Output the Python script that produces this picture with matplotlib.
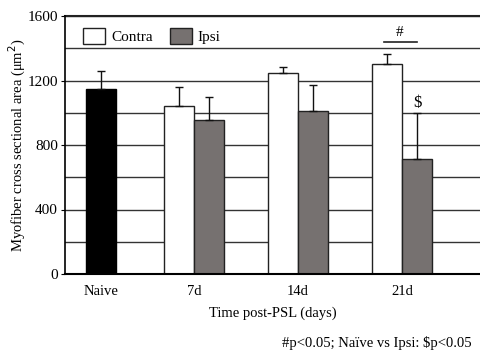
import numpy as np
import matplotlib.pyplot as plt

plt.rcParams['font.family'] = ['Liberation Serif', 'DejaVu Serif']

groups = ["Naive", "7d", "14d", "21d"]
naive_mean = 1147
naive_err = 112
contra_mean = [1042, 1248, 1304]
contra_err = [118, 36, 62]
ipsi_mean = [958, 1013, 715]
ipsi_err = [140, 159, 283]

pos = np.array([0, 0.894, 1.894, 2.894])
w = 0.29

fig = plt.figure(figsize=(4.81, 3.56), dpi=100)
ax = fig.add_axes([65/481, 1 - 274/356, 416/481, 258/356])

ax.set_axisbelow(True)
ekw = dict(lw=1, capsize=3, capthick=1, ecolor='#111111')

ax.bar(pos[0], naive_mean, w, color='black', edgecolor='black', lw=1, zorder=2)
ax.errorbar(pos[0], naive_mean, yerr=[[0], [naive_err]], fmt='none', zorder=3, **ekw)

ax.bar(pos[1:] - w/2, contra_mean, w, color='white', edgecolor='#222222', lw=1,
       zorder=2, label='Contra')
ax.errorbar(pos[1:] - w/2, contra_mean, yerr=[[0]*3, contra_err], fmt='none', zorder=3, **ekw)
ax.bar(pos[1:] + w/2, ipsi_mean, w, color='#767170', edgecolor='#222222', lw=1,
       zorder=2, label='Ipsi')
ax.errorbar(pos[1:] + w/2, ipsi_mean, yerr=[[0]*3, ipsi_err], fmt='none', zorder=3, **ekw)

ax.set_ylim(0, 1600)
ax.set_yticks([0, 400, 800, 1200, 1600])
ax.set_yticks(np.arange(0, 1601, 200), minor=True)
ax.yaxis.grid(True, which='both', color='#333333', lw=1)
ax.axhline(1600, color='#222222', lw=1.5, clip_on=False, zorder=1)
ax.tick_params(axis='y', which='minor', length=0)
ax.tick_params(axis='y', which='major', length=3, labelsize=11, pad=2)
ax.set_xlim(-0.346, 3.654)
ax.set_xticks(pos)
ax.set_xticklabels(groups, fontsize=10.5)
ax.tick_params(axis='x', length=0, pad=8)

for s in ['top', 'right']:
    ax.spines[s].set_visible(False)
ax.spines['left'].set_linewidth(1.2)
ax.spines['bottom'].set_linewidth(1.5)

ax.set_ylabel("Myofiber cross sectional area (\u03bcm$^2$)", fontsize=10.5, labelpad=0)
ax.set_xlabel("Time post-PSL (days)", fontsize=10.5, labelpad=6)

ax.legend(loc='upper left', bbox_to_anchor=(0.01, 1.005), ncol=2, frameon=False,
          fontsize=11, handlelength=1.45, handleheight=1.15, columnspacing=1.1,
          handletextpad=0.4)

# significance marks
ax.plot([pos[3] - 0.175, pos[3] + 0.14], [1440, 1440], color='#222222', lw=1.2)
ax.text(pos[3] - 0.02, 1455, "#", ha='center', va='bottom', fontsize=11)
ax.text(pos[3] + w/2, ipsi_mean[2] + ipsi_err[2] + 15, "$", ha='center', va='bottom', fontsize=12)

fig.text(472/481, 1 - 343/356, "#p<0.05; Na\u00efve vs Ipsi: $p<0.05", ha='right', va='center',
         fontsize=10.5)

fig.savefig("out.png", dpi=100)
